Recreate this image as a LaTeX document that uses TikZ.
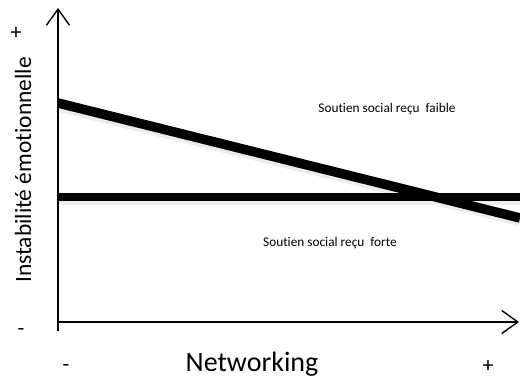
\documentclass[tikz,border=0pt]{standalone}
\usepackage{fontspec}
\setmainfont{Carlito}[Ligatures={NoCommon}]
\usetikzlibrary{positioning,arrows.meta}
\tikzset{
axis/.style={draw=black, line width=1.4pt},
gline/.style={draw=black, line width=8pt},
shade/.style={draw=black!7, line width=9pt},
lbl/.style={inner sep=0pt, anchor=base},
sign/.style={inner sep=0pt, font=\fontsize{22}{24}\selectfont}
}

\begin{document}
\begin{tikzpicture}[>={Straight Barb[length=16pt,width=23pt,line width=1.4pt]},x=1pt,y=-1pt]
\useasboundingbox (0,0) rectangle (520,379);

\coordinate (o) at (58,322);
\coordinate (ybot) at (58,331);
\coordinate (ytop) at (58,8);
\coordinate (xend) at (519,322);

\coordinate (d1) at (58,103);
\coordinate (d2) at (520,218);
\coordinate (h1) at (58,197);
\coordinate (h2) at (520,197);

% soft shadows under the two lines
\draw[shade] ([yshift=-4pt]d1) -- ([yshift=-4pt]d2);
\draw[shade] ([yshift=-4pt]h1) -- ([yshift=-4pt]h2);

\draw[gline] (h1) -- (h2);
\draw[gline, line width=9.5pt] (d1) -- (d2);

\draw[axis,->] (ybot) -- (ytop);
\draw[axis,->] (o) -- (xend);

\node[lbl, font=\fontsize{13.3}{15}\selectfont] (faible) at (387,113) {Soutien social reçu\ \ faible};
\node[lbl, font=\fontsize{13.3}{15}\selectfont] (forte) at (330,247) {Soutien social reçu\ \ forte};

\node[lbl, font=\fontsize{28}{32}\selectfont] (xlab) at (252,372) {Networking};
\node[lbl, rotate=90, font=\fontsize{23.4}{27}\selectfont] (ylab) at (31,170) {Instabilité émotionnelle};

\node[sign] (yplus) at (16,33) {+};
\node[sign] (yminus) at (21,332) {-};
\node[sign] (xminus) at (66,368) {-};
\node[sign] (xplus) at (488,366) {+};
\end{tikzpicture}
\end{document}
